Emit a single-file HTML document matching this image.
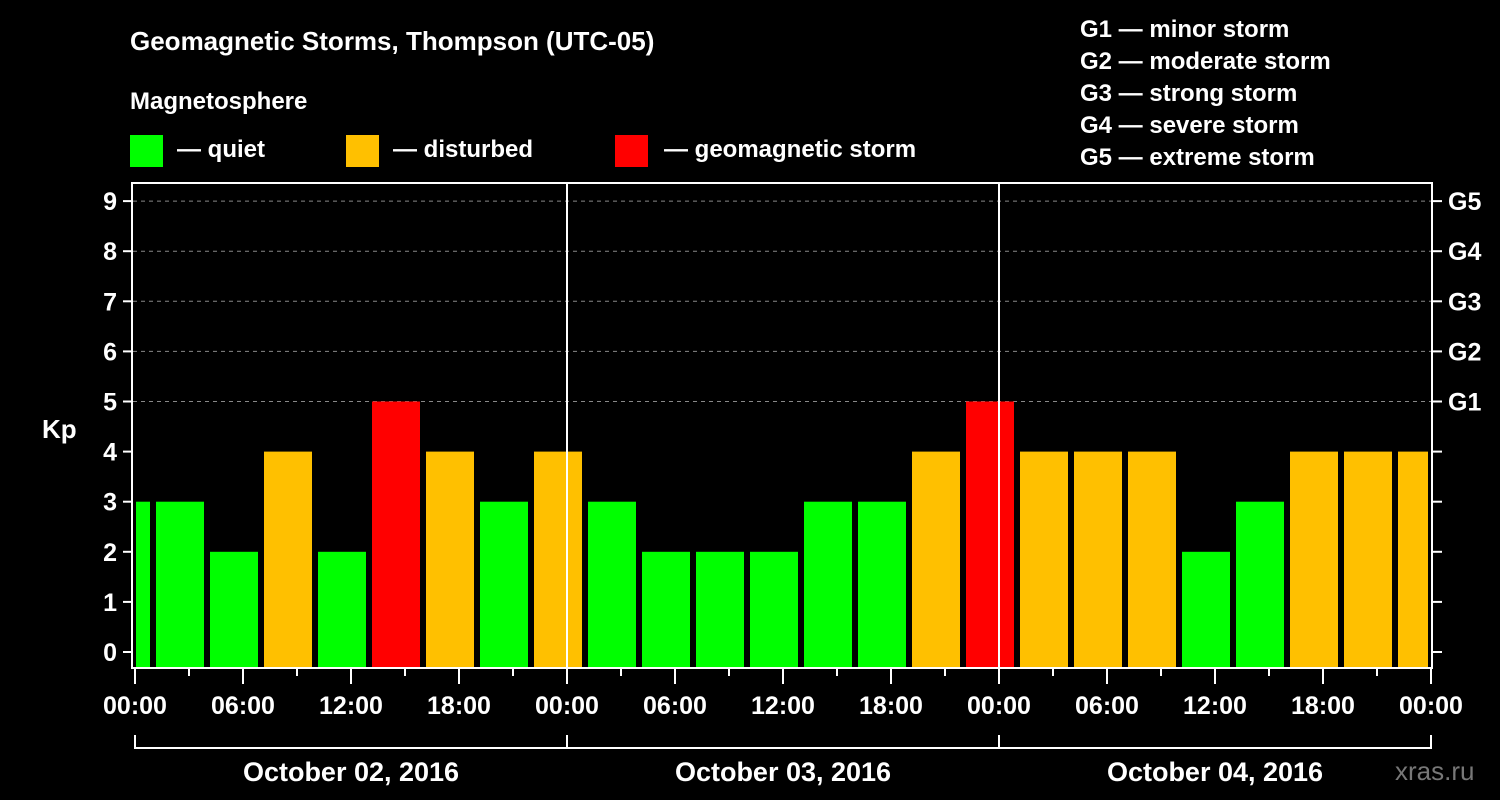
<!DOCTYPE html>
<html><head><meta charset="utf-8"><style>
html,body{margin:0;padding:0;background:#000;}
svg{display:block;font-family:"Liberation Sans",Arial,sans-serif;font-weight:bold;}
</style></head><body>
<svg id="chart" width="1500" height="800" viewBox="0 0 1500 800" xmlns="http://www.w3.org/2000/svg">
<rect width="1500" height="800" fill="#000"/>
<text x="130" y="50" fill="#fff" font-size="26">Geomagnetic Storms, Thompson (UTC-05)</text>
<text x="130" y="109" fill="#fff" font-size="24">Magnetosphere</text>
<g>
<rect x="130" y="135" width="33" height="32" fill="#00ff00"/><text x="177" y="157" fill="#fff" font-size="24">— quiet</text></g>
<g>
<rect x="346" y="135" width="33" height="32" fill="#ffc000"/><text x="393" y="157" fill="#fff" font-size="24">— disturbed</text></g>
<g>
<rect x="615" y="135" width="33" height="32" fill="#ff0000"/><text x="664" y="157" fill="#fff" font-size="24">— geomagnetic storm</text></g>
<g fill="#fff" font-size="24">
<text x="1080" y="37">G1 — minor storm</text>
<text x="1080" y="69">G2 — moderate storm</text>
<text x="1080" y="101">G3 — strong storm</text>
<text x="1080" y="133">G4 — severe storm</text>
<text x="1080" y="165">G5 — extreme storm</text>
</g>
<text x="42" y="438" fill="#fff" font-size="26">Kp</text>
<text x="1395" y="780" fill="#777" font-size="26" font-weight="normal">xras.ru</text>
<g id="grid"></g><g id="bars"></g><g id="axes"></g>
</svg>
<script>
const kpValues=[3,3,2,4,2,5,4,3,4,3,2,2,2,3,3,4,5,4,4,4,2,3,4,4,4];
const barStartHour=-2;
const yTicks=[0,1,2,3,4,5,6,7,8,9];
const gLabels=["G1","G2","G3","G4","G5"];
const gLevels=[5,6,7,8,9];
const xTickLabels=["00:00","06:00","12:00","18:00","00:00","06:00","12:00","18:00","00:00","06:00","12:00","18:00","00:00"];
const dayLabels=["October 02, 2016","October 03, 2016","October 04, 2016"];
const NS="http://www.w3.org/2000/svg";
const L=133,R=1432,T=183,B=668,X0=135,PXH=18;
const x=h=>X0+h*PXH;
const y=v=>652-v*50.1;
function mk(p,tag,a){const e=document.createElementNS(NS,tag);for(const k in a)e.setAttribute(k,a[k]);p.appendChild(e);return e;}
const grid=document.getElementById('grid'),bars=document.getElementById('bars'),axes=document.getElementById('axes');
gLevels.forEach(v=>{const l=mk(grid,'line',{x1:L,x2:R,y1:y(v),y2:y(v),stroke:'#888','stroke-dasharray':'4,4','stroke-width':1});

});
kpValues.forEach((v,i)=>{const h0=barStartHour+i*3;let x1=x(h0)+3,x2=x(h0+3)-3;x1=Math.max(x1,L+3);x2=Math.min(x2,R-4);
const c=v>=5?'#ff0000':v>=4?'#ffc000':'#00ff00';
const r=mk(bars,'rect',{x:x1,y:y(v),width:x2-x1,height:B-y(v),fill:c});

});
const frame=mk(axes,'rect',{x:L-1,y:T,width:R-L+1,height:B-T,fill:'none',stroke:'#fff','stroke-width':2});


[1,2].forEach(d=>{const l=mk(axes,'line',{x1:x(d*24),x2:x(d*24),y1:T,y2:B,stroke:'#fff','stroke-width':2});

});
yTicks.forEach(v=>{mk(axes,'line',{x1:L-10,x2:L,y1:y(v),y2:y(v),stroke:'#fff','stroke-width':2});
mk(axes,'line',{x1:R,x2:R+10,y1:y(v),y2:y(v),stroke:'#fff','stroke-width':2});
const t=mk(axes,'text',{x:L-16,y:y(v)+9,fill:'#fff','font-size':25,'text-anchor':'end'});t.textContent=v;

});
gLabels.forEach((g,i)=>{const t=mk(axes,'text',{x:R+16,y:y(gLevels[i])+9,fill:'#fff','font-size':25});t.textContent=g;

});
for(let h=0;h<=72;h+=3){const major=h%6===0;mk(axes,'line',{x1:x(h),x2:x(h),y1:B,y2:B+(major?16:8),stroke:'#fff','stroke-width':2});}
xTickLabels.forEach((s,i)=>{const t=mk(axes,'text',{x:x(i*6),y:714,fill:'#fff','font-size':25,'text-anchor':'middle'});t.textContent=s;

});
mk(axes,'line',{x1:x(0),x2:x(72),y1:748,y2:748,stroke:'#fff','stroke-width':2});
for(let d=0;d<=3;d++)mk(axes,'line',{x1:x(d*24),x2:x(d*24),y1:735,y2:749,stroke:'#fff','stroke-width':2});
dayLabels.forEach((s,i)=>{const t=mk(axes,'text',{x:x(i*24+12),y:781,fill:'#fff','font-size':27,'text-anchor':'middle'});t.textContent=s;

});
</script>
</body></html>
